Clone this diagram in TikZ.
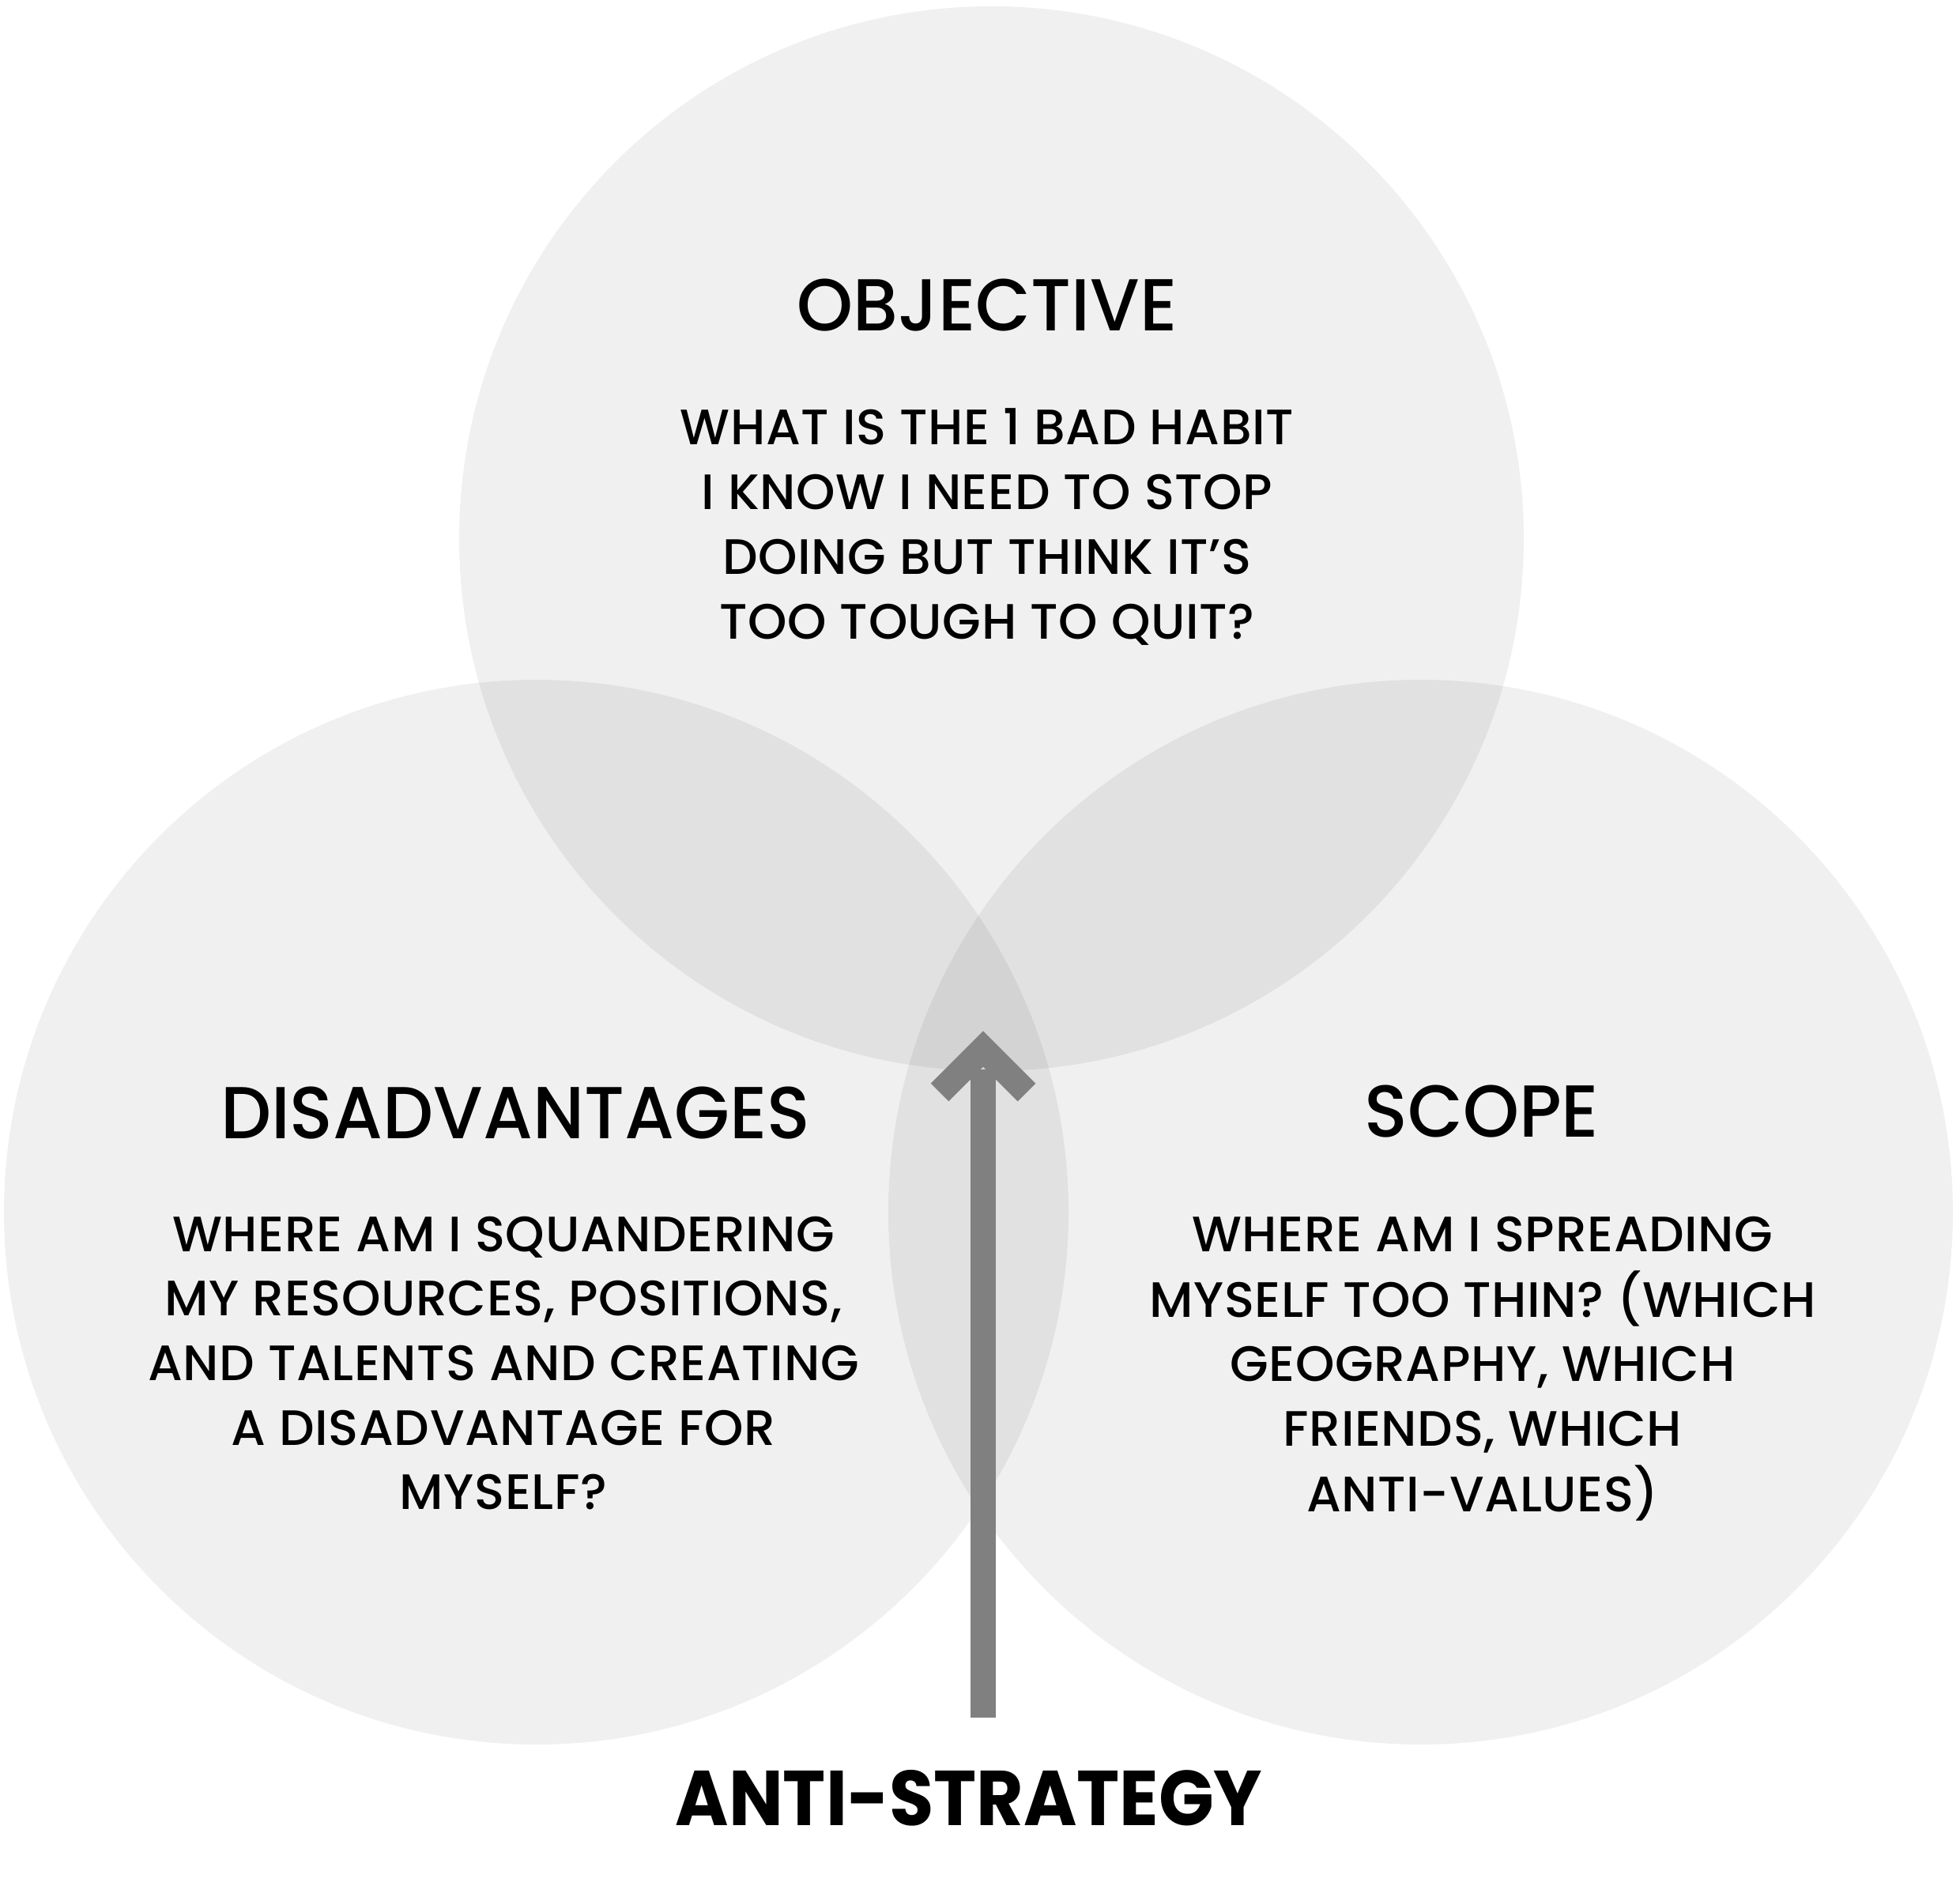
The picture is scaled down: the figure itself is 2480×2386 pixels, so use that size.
\documentclass[tikz,border=0pt]{standalone}
\usepackage{fontspec}
\setmainfont{Poppins}
\newfontfamily\medfont{Poppins Medium}[LetterSpace=1.0]
\newfontfamily\medtitlefont{Poppins Medium}[FakeStretch=0.97]
\newfontfamily\antifont{Poppins}[FakeStretch=0.93]
\usetikzlibrary{calc}
\definecolor{arrowgray}{RGB}{128,128,128}
\tikzset{
  venn/.style={circle, fill=black, fill opacity=0.059, draw=none, minimum size=134.7mm, inner sep=0pt},
  titletext/.style={anchor=base, inner sep=0pt, font=\medtitlefont\fontsize{26.5}{30}\selectfont},
  bodytext/.style={anchor=base, inner sep=0pt, font=\medfont\fontsize{17.9}{23.25}\selectfont},
  headtext/.style={anchor=base, inner sep=0pt, font=\antifont\bfseries\fontsize{28}{32}\selectfont},
  arrowline/.style={draw=arrowgray, line width=3.2mm, line cap=butt, line join=miter}
}
\newcommand{\blocktext}[1]{\begin{tabular}[t]{@{}c@{}}#1\end{tabular}}
\begin{document}
\begin{tikzpicture}[x=0.1mm, y=-0.1mm]
\useasboundingbox (0,0) rectangle (2480,2386);
\fill[white] (0,0) rectangle (2480,2386);
% circles
\node[venn] (obj) at (1254.5,681.5) {};
\node[venn] (dis) at (678.5,1533.5) {};
\node[venn] (scp) at (1797.5,1533.5) {};
% texts
\node[titletext] (objtitle) at (1249,419) {OBJECTIVE};
\node[bodytext] (objbody) at (1249,563) {\blocktext{WHAT IS THE 1 BAD HABIT\\ I KNOW I NEED TO STOP\\ DOING BUT THINK IT’S\\ TOO TOUGH TO QUIT?}};
\node[titletext] (distitle) at (652,1440) {DISADVANTAGES};
\node[bodytext] (disbody) at (637,1583) {\blocktext{WHERE AM I SQUANDERING\\ MY RESOURCES, POSITIONS,\\ AND TALENTS AND CREATING\\ A DISADVANTAGE FOR\\ MYSELF?}};
\node[titletext] (scptitle) at (1875,1438) {SCOPE};
\node[bodytext] (scpbody) at (1876,1583) {\blocktext{WHERE AM I SPREADING\\ MYSELF TOO THIN? (WHICH\\ GEOGRAPHY, WHICH\\ FRIENDS, WHICH\\ ANTI-VALUES)}};
\node[headtext] (anti) at (1226,2309) {ANTI-STRATEGY};
% arrow
\coordinate (arrowfoot) at (1244,2173);
\coordinate (arrowtop) at (1244,1353);
\coordinate (headleft) at (1189,1382);
\coordinate (headtip) at (1244,1327);
\coordinate (headright) at (1299,1382);
\draw[arrowline] (arrowfoot) -- (arrowtop);
\draw[arrowline] (headleft) -- (headtip) -- (headright);
\end{tikzpicture}
\end{document}
